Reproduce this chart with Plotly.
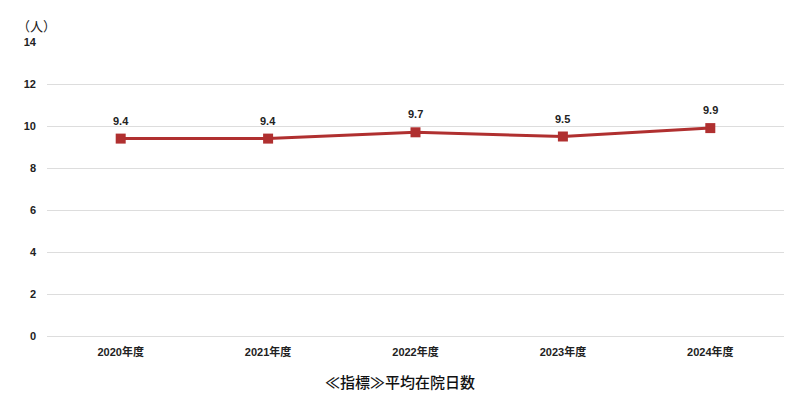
import plotly.graph_objects as go

categories = ["2020年度", "2021年度", "2022年度", "2023年度", "2024年度"]
values = [9.4, 9.4, 9.7, 9.5, 9.9]
y_ticks = [0, 2, 4, 6, 8, 10, 12, 14]

FONT = "Liberation Sans, Arial, Noto Sans CJK JP"

fig = go.Figure()
fig.add_trace(go.Scatter(
    x=categories, y=values, mode="lines+markers",
    line=dict(color="#b03030", width=3),
    marker=dict(symbol="square", size=10, color="#b03030"),
    cliponaxis=False,
    hoverinfo="skip",
))

annotations = [
    dict(text=f"{v:.1f}", x=c, y=v, xref="x", yref="y", yanchor="bottom",
         yshift=10, showarrow=False,
         font=dict(family=FONT, size=11, color="#222222", weight="bold"))
    for c, v in zip(categories, values)
]
annotations += [
    dict(text="（人）", x=0, xref="paper", xanchor="right", xshift=11,
         y=14, yref="y", yanchor="bottom", yshift=5, showarrow=False,
         font=dict(family="Noto Sans CJK JP", size=13, color="#222222")),
    dict(text="≪指標≫平均在院日数", x=0.5, xref="paper", xanchor="center", xshift=-16,
         y=0, yref="paper", yanchor="middle", yshift=-45, showarrow=False,
         font=dict(family="Noto Sans CJK JP", size=15, color="#111111", weight=500)),
]

fig.update_layout(
    width=800, height=400,
    margin=dict(l=39, r=24, t=34, b=72),
    paper_bgcolor="white", plot_bgcolor="white",
    showlegend=False,
    font=dict(family=FONT, size=11, color="#222222"),
    xaxis=dict(
        type="category", range=[-0.5, 4.5], showgrid=False, showline=False,
        zeroline=False,
        tickfont=dict(family=FONT, size=11, color="#222222", weight="bold"),
        ticks="", ticklabelstandoff=8,
    ),
    yaxis=dict(
        range=[0, 14], tickvals=y_ticks, showgrid=True, gridcolor="#dddddd",
        gridwidth=1, zeroline=True, zerolinecolor="#dddddd", zerolinewidth=1,
        showline=False, ticks="",
        tickfont=dict(family=FONT, size=11, color="#222222", weight="bold"),
        ticklabelstandoff=10,
    ),
    annotations=annotations,
)

fig.write_html("out.html")
